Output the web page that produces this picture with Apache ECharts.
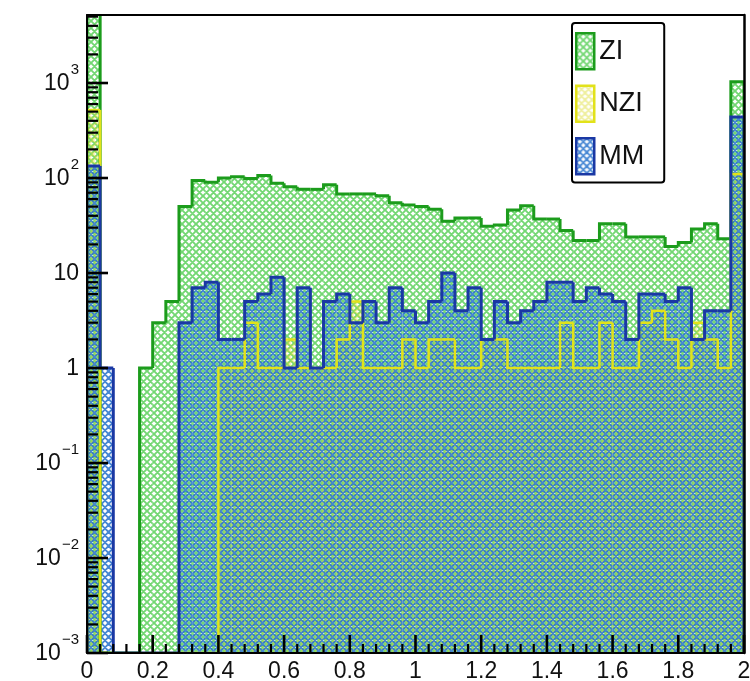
<!DOCTYPE html>
<html>
<head>
<meta charset="utf-8">
<script src="https://cdn.jsdelivr.net/npm/echarts@6/dist/echarts.min.js"></script>
<style>
  html, body { margin: 0; padding: 0; background: #fff; }
  #chart { width: 750px; height: 681px; }
</style>
</head>
<body>
<div id="chart"></div>
<script>
// Binning: 50 bins of width 0.04 on [0, 2]
const X_MIN = 0;
const X_MAX = 2;
const BIN_WIDTH = 0.04;
const Y_MIN = 1e-3;
const Y_MAX = 5200;

const seriesNames = ['ZI', 'NZI', 'MM'];

// Bin contents (0 = empty bin)
const ziCounts = [6200, 0, 0, 0, 1, 3, 5, 50, 94, 90,
                  100, 103, 99, 106, 88, 81, 76, 76, 85, 68,
                  68, 68, 65, 55, 52, 50, 47, 35, 38, 38,
                  31, 32, 46, 51, 37, 37, 28, 22, 22, 33,
                  33, 24, 24, 24, 19, 21, 29, 33, 23, 1030];
const nziCounts = [520, 0, 0, 0, 0, 0, 0, 0, 0, 0,
                   1, 1, 3, 1, 1, 2, 1, 1, 1, 2,
                   5, 1, 1, 1, 2, 1, 2, 2, 1, 1,
                   2, 2, 1, 1, 1, 1, 3, 1, 1, 3,
                   1, 1, 3, 4, 2, 1, 3, 2, 1, 110];
const mmCounts = [134, 1, 0, 0, 0, 0, 0, 3, 7, 8,
                  2, 2, 5, 6, 9, 1, 7, 1, 5, 6,
                  3, 5, 3, 7, 4, 3, 5, 10, 4, 7,
                  2, 5, 3, 4, 5, 8, 8, 5, 7, 6,
                  5, 2, 6, 6, 5, 7, 2, 4, 4, 440];

// Axis tick values
const xTickStep = 0.2;
const xMinorStep = 0.04;
const yDecades = [1e-3, 1e-2, 1e-1, 1, 10, 100, 1000];
const yMinorMultipliers = [2, 3, 4, 5, 6, 7, 8, 9];

const FONT = '"Liberation Sans", Arial, Helvetica, sans-serif';
const lineColors = ['#1c9c1c', '#e2e21a', '#1a38a4'];
const hatchColors = ['rgba(80,205,80,0.8)', 'rgba(220,220,40,0.45)', 'rgba(40,115,205,0.85)'];
const hatchOffsets = [0, 1.75, 3.5];
const lineWidths = [3, 2.5, 3];

// Cross-hatch fill tile
function hatch(color, offset) {
  const s = 7;
  const c = document.createElement('canvas');
  c.width = s; c.height = s;
  const g = c.getContext('2d');
  g.strokeStyle = color;
  g.lineWidth = 1.9;
  g.beginPath();
  for (let k = -2; k <= 2; k++) {
    const dx = k * s + offset;
    g.moveTo(dx, 0); g.lineTo(dx + s, s);
    g.moveTo(dx + s, 0); g.lineTo(dx, s);
  }
  g.stroke();
  return { image: c, repeat: 'repeat' };
}
const fills = hatchColors.map(function (c, i) { return hatch(c, hatchOffsets[i]); });

// One data item per bin: [low edge, high edge, content, previous content, last flag]
function binData(counts) {
  const floor = function (v) { return v > 0 ? v : Y_MIN; };
  return counts.map(function (v, i) {
    const lo = X_MIN + i * BIN_WIDTH;
    return [lo, lo + BIN_WIDTH, floor(v), i === 0 ? Y_MIN : floor(counts[i - 1]), i === counts.length - 1 ? 1 : 0];
  });
}

function histRenderer(idx) {
  return function (params, api) {
    const x0 = api.value(0), x1 = api.value(1), v = api.value(2), pv = api.value(3), last = api.value(4);
    const tl = api.coord([x0, v]);
    const tr = api.coord([x1, v]);
    const prev = api.coord([x0, pv]);
    const bottom = api.coord([x0, Y_MIN])[1];
    const pts = [[prev[0], prev[1]], [tl[0], tl[1]], [tr[0], tr[1]]];
    if (last) pts.push([tr[0], bottom]);
    return {
      type: 'group',
      children: [
        {
          type: 'rect',
          shape: { x: tl[0], y: tl[1], width: tr[0] - tl[0], height: bottom - tl[1] },
          style: { fill: fills[idx], stroke: null }
        },
        {
          type: 'polyline',
          shape: { points: pts },
          style: { fill: null, stroke: lineColors[idx], lineWidth: lineWidths[idx], lineJoin: 'miter' },
          z2: 10
        }
      ]
    };
  };
}

// Inward tick marks: [x, y, dx, dy] with the anchor in data space and the offset in pixels
const tickData = [];
(function () {
  const nX = Math.round((X_MAX - X_MIN) / xMinorStep);
  const perMajor = Math.round(xTickStep / xMinorStep);
  for (let i = 0; i <= nX; i++) {
    tickData.push([+(X_MIN + i * xMinorStep).toFixed(4), Y_MIN, 0, i % perMajor === 0 ? -18 : -9]);
  }
  yDecades.forEach(function (d) {
    tickData.push([X_MIN, d, 21, 0]);
    yMinorMultipliers.forEach(function (m) {
      const v = +(d * m).toPrecision(3);
      if (v < Y_MAX) tickData.push([X_MIN, v, 11, 0]);
    });
  });
})();

function tickRenderer(params, api) {
  const p = api.coord([api.value(0), api.value(1)]);
  const dx = api.value(2), dy = api.value(3);
  const major = Math.abs(dx) + Math.abs(dy) > 15;
  return {
    type: 'line',
    shape: { x1: p[0], y1: p[1], x2: p[0] + dx, y2: p[1] + dy },
    style: { stroke: '#000', lineWidth: major ? 2.6 : 2.2 }
  };
}

const countsList = [ziCounts, nziCounts, mmCounts];

function logLabel(v) {
  const e = Math.round(Math.log10(v));
  if (e === 0) return '{b|1}';
  if (e === 1) return '{b|10}';
  return '{b|10}{s|' + (e < 0 ? '\u2212' + (-e) : String(e)) + '}';
}

const histSeries = countsList.map(function (counts, i) {
  return {
    name: seriesNames[i],
    type: 'custom',
    coordinateSystem: 'cartesian2d',
    clip: true,
    z: 2,
    itemStyle: { color: fills[i], borderColor: lineColors[i] },
    encode: { x: [0, 1], y: [2, 3] },
    data: binData(counts),
    renderItem: histRenderer(i)
  };
});

const tickSeries = {
  name: 'ticks',
  type: 'custom',
  coordinateSystem: 'cartesian2d',
  clip: false,
  silent: true,
  z: 8,
  encode: { x: 0, y: 1 },
  data: tickData,
  renderItem: tickRenderer
};

const chart = echarts.init(document.getElementById('chart'), null, { renderer: 'canvas' });
chart.setOption({
  animation: false,
  backgroundColor: '#fff',
  grid: {
    left: 87, right: 6, top: 15, bottom: 28,
    show: false,
    outerBoundsMode: 'none'
  },
  legend: {
    orient: 'vertical',
    left: 572, top: 23,
    padding: [9, 20, 7, 3],
    itemWidth: 18, itemHeight: 36, itemGap: 14,
    borderColor: '#000', borderWidth: 2, borderRadius: 3,
    backgroundColor: '#fff',
    selectedMode: false,
    z: 20,
    textStyle: { fontFamily: FONT, fontSize: 27, color: '#111' },
    data: seriesNames.map(function (n, i) {
      return { name: n, icon: 'rect', itemStyle: { color: fills[i], borderColor: lineColors[i], borderWidth: 2.5 } };
    })
  },
  xAxis: [
    {
      type: 'value', min: X_MIN, max: X_MAX, interval: xTickStep, z: 10,
      axisLine: { show: true, onZero: false, lineStyle: { color: '#000', width: 2 } },
      axisTick: { show: false },
      splitLine: { show: false },
      axisLabel: { show: true, fontFamily: FONT, fontSize: 23, color: '#111', margin: 7 }
    },
    {
      // top frame edge
      type: 'value', min: X_MIN, max: X_MAX, position: 'top', z: 10,
      axisLine: { show: true, onZero: false, lineStyle: { color: '#000', width: 2 } },
      axisTick: { show: false }, axisLabel: { show: false }, splitLine: { show: false }
    }
  ],
  yAxis: [
    {
      type: 'log', logBase: 10, min: Y_MIN, max: Y_MAX, z: 10,
      axisLine: { show: true, onZero: false, lineStyle: { color: '#000', width: 2 } },
      axisTick: { show: false },
      splitLine: { show: false },
      axisLabel: {
        show: true,
        customValues: yDecades,
        margin: 8,
        formatter: logLabel,
        rich: {
          b: { fontFamily: FONT, fontSize: 23, color: '#111', lineHeight: 24, verticalAlign: 'bottom' },
          s: { fontFamily: FONT, fontSize: 15, color: '#111', lineHeight: 15, verticalAlign: 'bottom', padding: [0, 0, 18, 1] }
        }
      }
    },
    {
      // right frame edge
      type: 'log', logBase: 10, min: Y_MIN, max: Y_MAX, position: 'right', offset: 0, z: 10,
      axisLine: { show: true, onZero: false, lineStyle: { color: '#000', width: 2.5 } },
      axisTick: { show: false }, axisLabel: { show: false }, splitLine: { show: false }
    }
  ],
  series: histSeries.concat([tickSeries])
});
</script>
</body>
</html>
